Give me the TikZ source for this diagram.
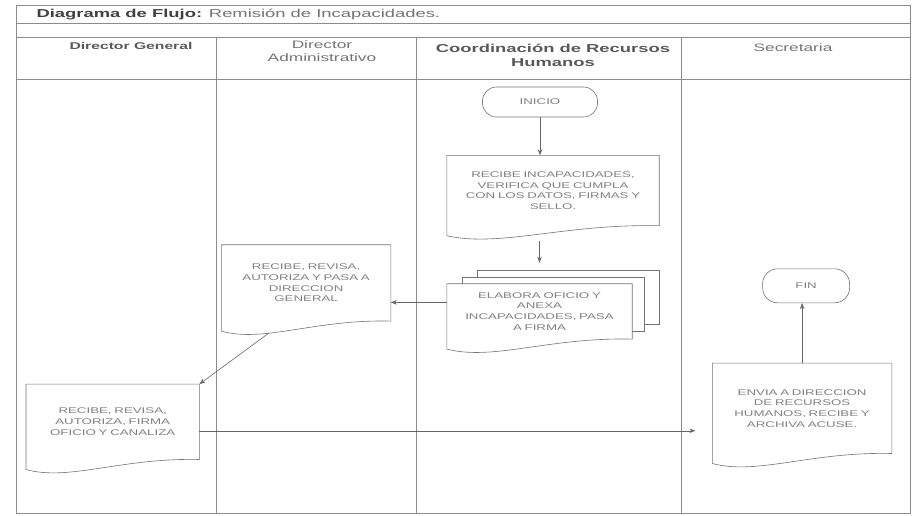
\documentclass[tikz,border=0pt]{standalone}
\usepackage{fontspec}
\setmainfont{Liberation Sans}[FakeStretch=1.6]
\usetikzlibrary{positioning, arrows.meta, calc}

\begin{document}
\begin{tikzpicture}[
  x=1pt, y=-1pt,
  every node/.style={font=\fontsize{8.3}{10.7}\selectfont, text=black!50},
  lane/.style={draw=black!45, line width=0.6pt},
  head/.style={font=\fontsize{10.8}{12.5}\selectfont, text=black!55, align=center},
  term/.style={draw=black!55, line width=0.6pt, rounded corners=14pt, minimum width=115pt, minimum height=30pt},
  doc/.style={align=center, inner sep=0pt},
  wave/.style={draw=black!55, line width=0.6pt},
  arr/.style={-{Stealth[length=6pt, width=4.5pt]}, line width=0.6pt, draw=black!60}
]
  \useasboundingbox (0,0) rectangle (914,515);

  % frame and lanes
  \draw[lane] (16,5) rectangle (910,513);
  \draw[lane] (16,23) -- (910,23);
  \draw[lane] (16,37) -- (910,37);
  \draw[lane] (16,79) -- (910,79);
  \foreach \x in {216,416,681}
    \draw[lane] (\x,37) -- (\x,513);

  \node[anchor=west, font=\fontsize{11.5}{13}\selectfont, text=black!55] (titulo) at (33,14)
    {{\color{black!75}\bfseries Diagrama de Flujo:} Remisión de Incapacidades.};

  \node[head, font=\fontsize{9.8}{12}\selectfont\bfseries, text=black!65] (hdg) at (131,46) {Director General};
  \node[head] (hda) at (322,51) {Director\\Administrativo};
  \node[head, font=\fontsize{11.5}{14}\selectfont\bfseries, text=black!65] (hrh) at (553,55) {Coordinación de Recursos\\Humanos};
  \node[head] (hsec) at (793,48) {Secretaria};

  % steps
  \node[term] (inicio) at (540,102) {INICIO};
  \node[doc, text width=212pt, minimum height=70pt, below=38pt of inicio, xshift=13pt] (recibe)
    {RECIBE INCAPACIDADES,\\VERIFICA QUE CUMPLA\\CON LOS DATOS, FIRMAS Y\\SELLO.};
  \node[doc, text width=185pt, minimum height=55pt, below=58pt of recibe, xshift=-13.5pt] (elabora)
    {ELABORA OFICIO Y\\ANEXA\\INCAPACIDADES, PASA\\A FIRMA};
  \node[doc, text width=169pt, minimum height=76pt, left=56pt of elabora, yshift=28.5pt] (revisa)
    {RECIBE, REVISA,\\AUTORIZA Y PASA A\\DIRECCION\\GENERAL};
  \node[doc, text width=173pt, minimum height=75pt, below left=63pt and 22pt of revisa] (autoriza)
    {RECIBE, REVISA,\\AUTORIZA, FIRMA\\OFICIO Y CANALIZA};
  \node[doc, text width=179pt, minimum height=90pt, right=513pt of autoriza, yshift=13.5pt] (envia)
    {ENVIA A DIRECCION\\DE RECURSOS\\HUMANOS, RECIBE Y\\ARCHIVA ACUSE.};
  \node[term, minimum width=87pt, minimum height=34pt, rounded corners=15pt, above=60pt of envia, xshift=4pt] (fin) {FIN};

  % document outlines
  \foreach \n in {recibe, elabora, revisa, autoriza, envia}
    \draw[wave] ([yshift=-10pt]\n.south west) -- (\n.north west) -- (\n.north east) -- (\n.south east)
      .. controls ($(\n.south west)!0.55!(\n.south east)+(0pt,2pt)$)
      and ($(\n.south west)!0.25!(\n.south east)+(0pt,-22pt)$) .. ([yshift=-10pt]\n.south west);
  \draw[wave] ([xshift=15pt]elabora.north west) -- ++(0pt,6pt) -| ([xshift=12pt, yshift=8pt]elabora.south east) -- ++(-12pt,0pt);
  \draw[wave] ([xshift=30pt, yshift=6pt]elabora.north west) -- ++(0pt,7pt) -| ([xshift=27pt, yshift=15pt]elabora.south east) -- ++(-15pt,0pt);

  % flow
  \coordinate (e1) at ($(elabora.west)+(0pt,9pt)$);
  \coordinate (a1) at ($(autoriza.east)+(0pt,-9pt)$);
  \draw[arr] (inicio.south) -- (inicio.south |- recibe.north);
  \draw[arr] ($(recibe.south -| elabora.north)+(0pt,-15pt)$) -- ($(elabora.north)+(0pt,21pt)$);
  \draw[arr] (e1) -- (e1 -| revisa.east);
  \draw[arr] ($(revisa.south west)!0.28!(revisa.south east)+(0pt,-12pt)$) -- (autoriza.north east);
  \draw[arr, shorten >=17pt] (a1) -- (a1 -| envia.west);
  \draw[arr] (envia.north) -- (envia.north |- fin.south);
\end{tikzpicture}
\end{document}
